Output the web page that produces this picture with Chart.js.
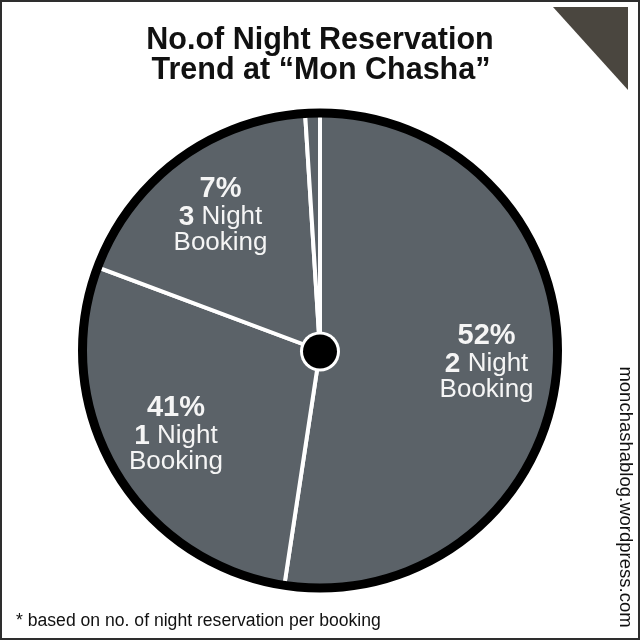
<!DOCTYPE html>
<html lang="en">
<head>
    <meta charset="UTF-8">
    <title>No.of Night Reservation Trend</title>
    <style>
        body {
            margin: 0;
            background: #ffffff;
        }
        .chart-container {
            position: relative;
            width: 640px;
            height: 640px;
        }
    </style>
    <script src="https://cdn.jsdelivr.net/npm/chart.js"></script>
</head>
<body>

    <div class="chart-container">
        <canvas id="reservasPizza"></canvas>
    </div>

    <script>
        // Dados (fatias no sentido horário a partir do topo)
        const sliceNames = ['2 Night Booking', '1 Night Booking', '3 Night Booking', ''];
        const sliceShares = [52.4, 28.3, 18.3, 1.0];   // tamanho angular desenhado
        const percentLabels = ['52%', '41%', '7%', ''];  // texto escrito em cada fatia
        const nightCounts = ['2', '1', '3', ''];

        const titleLines = ['No.of Night Reservation', 'Trend at \u201CMon Chasha\u201D'];
        const footnote = '* based on no. of night reservation per booking';
        const watermark = 'monchashablog.wordpress.com';

        const FONT = '"Liberation Sans", Arial, sans-serif';

        // Plugin para moldura, textos, anel preto e ponto central
        const decorPlugin = {
            id: 'decor',
            beforeDraw(chart) {
                const ctx = chart.ctx;
                ctx.save();
                ctx.fillStyle = '#ffffff';
                ctx.fillRect(0, 0, 640, 640);

                // moldura
                ctx.strokeStyle = '#2e2e2e';
                ctx.lineWidth = 2;
                ctx.strokeRect(1, 1, 638, 638);

                // triângulo do canto
                ctx.fillStyle = '#4a463f';
                ctx.beginPath();
                ctx.moveTo(553, 7);
                ctx.lineTo(628, 7);
                ctx.lineTo(628, 90);
                ctx.closePath();
                ctx.fill();

                // título
                ctx.fillStyle = '#111111';
                ctx.textAlign = 'center';
                ctx.textBaseline = 'alphabetic';
                ctx.font = 'bold 30.5px ' + FONT;
                ctx.fillText(titleLines[0], 320, 49);
                ctx.fillText(titleLines[1], 321, 79);

                // nota de rodapé
                ctx.textAlign = 'left';
                ctx.font = '17.6px ' + FONT;
                ctx.fillText(footnote, 16, 626);

                // texto vertical
                ctx.translate(625, 497);
                ctx.rotate(Math.PI / 2);
                ctx.textAlign = 'center';
                ctx.textBaseline = 'middle';
                ctx.font = '18.5px ' + FONT;
                ctx.fillText(watermark, 0, 0);
                ctx.restore();
            },
            afterDatasetsDraw(chart) {
                const ctx = chart.ctx;
                const arcs = chart.getDatasetMeta(0).data;
                const cx = arcs[0].x;
                const cy = arcs[0].y + 1;
                const ringOuter = 242;
                const ringWidth = 9;

                ctx.save();
                // anel preto externo
                ctx.strokeStyle = '#000000';
                ctx.lineWidth = ringWidth;
                ctx.beginPath();
                ctx.arc(arcs[0].x, arcs[0].y, ringOuter - ringWidth / 2, 0, Math.PI * 2);
                ctx.stroke();

                // ponto central
                ctx.fillStyle = '#ffffff';
                ctx.beginPath();
                ctx.arc(cx, cy, 20, 0, Math.PI * 2);
                ctx.fill();
                ctx.fillStyle = '#000000';
                ctx.beginPath();
                ctx.arc(cx, cy, 17, 0, Math.PI * 2);
                ctx.fill();

                // rótulos das fatias
                const innerR = ringOuter - ringWidth;
                ctx.fillStyle = '#f5f5f5';
                ctx.textBaseline = 'middle';
                arcs.forEach((arc, i) => {
                    if (!percentLabels[i]) return;
                    const mid = (arc.startAngle + arc.endAngle) / 2;
                    const r = innerR * 0.717;
                    const x = cx + Math.cos(mid) * r;
                    const y = cy + Math.sin(mid) * r;

                    ctx.textAlign = 'center';
                    ctx.font = 'bold 29px ' + FONT;
                    ctx.fillText(percentLabels[i], x, y - 28);

                    // "2 Night": número em negrito
                    ctx.textAlign = 'left';
                    const boldPart = nightCounts[i];
                    const normalPart = ' Night';
                    ctx.font = 'bold 28px ' + FONT;
                    const w1 = ctx.measureText(boldPart).width;
                    ctx.font = '26px ' + FONT;
                    const w2 = ctx.measureText(normalPart).width;
                    const x0 = x - (w1 + w2) / 2;
                    ctx.font = 'bold 28px ' + FONT;
                    ctx.fillText(boldPart, x0, y);
                    ctx.font = '26px ' + FONT;
                    ctx.fillText(normalPart, x0 + w1, y);

                    ctx.textAlign = 'center';
                    ctx.fillText('Booking', x, y + 26);
                });
                ctx.restore();
            }
        };

        const ctxPizza = document.getElementById('reservasPizza').getContext('2d');
        const reservasPizza = new Chart(ctxPizza, {
            type: 'pie',
            data: {
                labels: sliceNames,
                datasets: [{
                    data: sliceShares,
                    backgroundColor: '#5b6268',
                    borderColor: '#ffffff',
                    borderWidth: 4,
                    hoverOffset: 0
                }]
            },
            options: {
                responsive: true,
                maintainAspectRatio: false,
                animation: false,
                rotation: 0,
                layout: {
                    padding: { top: 108, left: 78, right: 78, bottom: 47 }
                },
                plugins: {
                    legend: { display: false },
                    tooltip: { enabled: false },
                    title: { display: false }
                }
            },
            plugins: [decorPlugin]
        });
    </script>
</body>
</html>
